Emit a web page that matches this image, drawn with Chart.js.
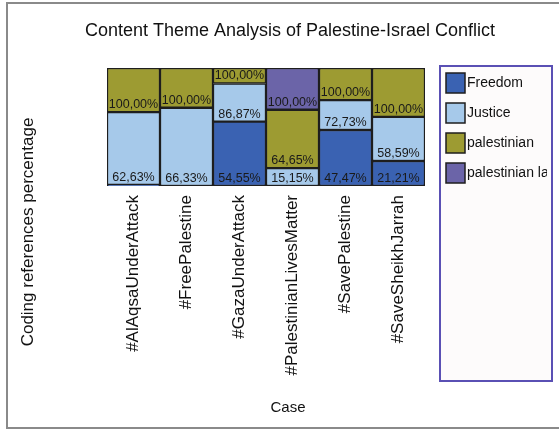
<!DOCTYPE html>
<html>
<head>
<meta charset="utf-8">
<script src="https://cdn.jsdelivr.net/npm/chart.js@4.4.1/dist/chart.umd.min.js"></script>
<style>
  html, body { margin: 0; padding: 0; background: #ffffff; }
  #wrap { width: 559px; height: 431px; }
</style>
</head>
<body>
<div id="wrap"><canvas id="c" width="559" height="431"></canvas></div>
<script>
// ---- data ----
const categories = ["#AlAqsaUnderAttack", "#FreePalestine", "#GazaUnderAttack", "#PalestinianLivesMatter", "#SavePalestine", "#SaveSheikhJarrah"];
const seriesNames = ["Freedom", "Justice", "palestinian", "palestinian la"];
const freedom = [1.01, 0, 54.55, 0, 47.47, 21.21];
const justice = [61.62, 66.33, 32.32, 15.15, 25.26, 37.38];
const palestinian = [37.37, 33.67, 13.13, 49.50, 27.27, 41.41];
const palestinianLa = [0, 0, 0, 35.35, 0, 0];
const seriesColors = ["#3a62b2", "#a6c9ea", "#9d9b32", "#6b64a8"];

const titleText = "Content Theme Analysis of Palestine-Israel Conflict";
const yTitle = "Coding references percentage";
const xTitle = "Case";
const FONT = "'Liberation Sans', Arial, sans-serif";

const seriesData = [freedom, justice, palestinian, palestinianLa];

const decor = {
  id: 'decor',
  beforeDraw(chart) {
    const ctx = chart.ctx;
    ctx.save();
    ctx.fillStyle = '#ffffff';
    ctx.fillRect(0, 0, chart.width, chart.height);
    // outer frame
    ctx.strokeStyle = '#8a8a8a';
    ctx.lineWidth = 2;
    ctx.strokeRect(7, 3, 560, 425);
    ctx.restore();
  },
  afterDraw(chart) {
    const ctx = chart.ctx;
    const area = chart.chartArea;
    ctx.save();
    // title
    ctx.fillStyle = '#111';
    ctx.font = '18px ' + FONT;
    ctx.textAlign = 'center';
    ctx.textBaseline = 'middle';
    ctx.fillText(titleText, 290, 31);
    // x title
    ctx.font = '15px ' + FONT;
    ctx.fillText(xTitle, 288, 408);
    // y title
    ctx.save();
    ctx.translate(28, 232);
    ctx.rotate(-Math.PI / 2);
    ctx.font = '17px ' + FONT;
    ctx.fillText(yTitle, 0, 0);
    ctx.restore();

    // data labels: cumulative value at base of each segment
    ctx.save();
    ctx.beginPath();
    ctx.rect(area.left, area.top, area.right - area.left, area.bottom - area.top);
    ctx.clip();
    ctx.font = '12.5px ' + FONT;
    ctx.fillStyle = '#1a1a1a';
    ctx.textAlign = 'center';
    ctx.textBaseline = 'alphabetic';
    const cum = categories.map(() => 0);
    chart.data.datasets.forEach((ds, di) => {
      const meta = chart.getDatasetMeta(di);
      meta.data.forEach((bar, i) => {
        const v = ds.data[i];
        cum[i] += v;
        if (v < 4) return;
        const txt = cum[i].toFixed(2).replace('.', ',') + '%';
        ctx.fillText(txt, bar.x, bar.base - 4);
      });
    });
    ctx.restore();

    // legend
    const lx = 440, ly = 66, lw = 112, lh = 315;
    ctx.fillStyle = '#fdfbfb';
    ctx.fillRect(lx, ly, lw, lh);
    ctx.strokeStyle = '#5a50b4';
    ctx.lineWidth = 2;
    ctx.strokeRect(lx, ly, lw, lh);
    ctx.save();
    ctx.beginPath();
    ctx.rect(lx + 1, ly + 1, lw - 6, lh - 2);
    ctx.clip();
    chart.data.datasets.forEach((ds, i) => {
      const sy = 73 + i * 30;
      ctx.fillStyle = ds.backgroundColor;
      ctx.fillRect(446, sy, 19, 20);
      ctx.strokeStyle = '#1e1e1e';
      ctx.lineWidth = 1.5;
      ctx.strokeRect(446, sy, 19, 20);
      ctx.fillStyle = '#111';
      ctx.font = '14px ' + FONT;
      ctx.textAlign = 'left';
      ctx.textBaseline = 'middle';
      ctx.fillText(ds.label, 467, sy + 10);
    });
    ctx.restore();
    ctx.restore();
  }
};

new Chart(document.getElementById('c'), {
  type: 'bar',
  data: {
    labels: categories,
    datasets: seriesNames.map((name, i) => ({
      label: name,
      data: seriesData[i],
      backgroundColor: seriesColors[i],
      borderColor: '#1e1e1e',
      borderWidth: 1.5,
      borderSkipped: false,
      categoryPercentage: 1.0,
      barPercentage: 1.0
    }))
  },
  options: {
    responsive: false,
    animation: false,
    devicePixelRatio: 1,
    layout: { padding: { left: 107, right: 134, top: 68, bottom: 0 } },
    plugins: { legend: { display: false }, title: { display: false }, tooltip: { enabled: false } },
    scales: {
      x: {
        stacked: true,
        grid: { display: false, drawTicks: false },
        border: { display: false },
        ticks: {
          color: '#111',
          font: { family: FONT, size: 17 },
          maxRotation: 90, minRotation: 90,
          padding: 9,
          autoSkip: false
        },
        afterFit(scale) { scale.height = 431 - 186; }
      },
      y: {
        stacked: true,
        display: false,
        min: 0, max: 100
      }
    }
  },
  plugins: [decor]
});
</script>
</body>
</html>
